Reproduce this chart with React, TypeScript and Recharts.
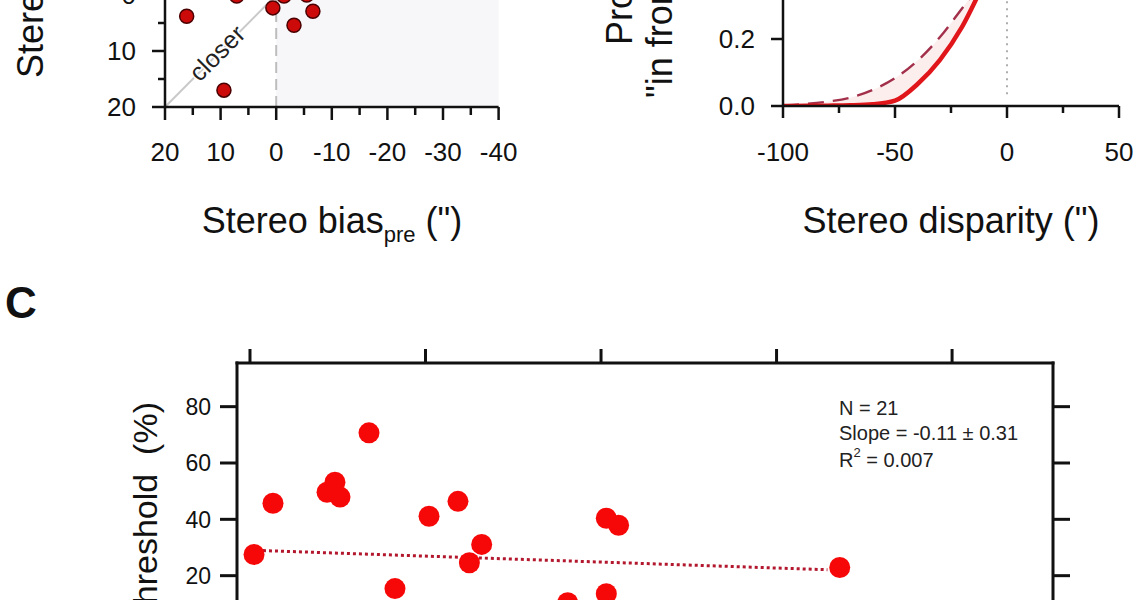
import React from 'react'
import {
  ScatterChart,
  Scatter,
  ComposedChart,
  Line,
  Area,
  XAxis,
  YAxis,
  ReferenceLine,
  ReferenceArea,
} from 'recharts'

const FONT = '"Liberation Sans", Arial, Helvetica, sans-serif'
const INK = '#111'

// Panel A: stereo bias pre vs post (only the lower part is visible)
const biasPre = [16.1, 0.6, -3.2, -6.6, 9.4, 7.1, -1.4, -5.5]
const biasPost = [3.8, 2.3, 5.4, 2.9, 17.0, 0.2, 0.2, 0.0]
const aTicks = [-40, -35, -30, -25, -20, -15, -10, -5, 0, 5, 10, 15, 20]

// Panel B: psychometric curves
const disparity = [-100, -90, -80, -70, -60, -50, -40, -30, -20, -10, 0, 10, 20, 30, 40, 50]
const pSolid = [0.0, 0.0005, 0.001, 0.002, 0.005, 0.016, 0.065, 0.137, 0.237, 0.37, 0.5, 0.63, 0.75, 0.85, 0.92, 0.96]
const pDashed = [0.002, 0.006, 0.013, 0.025, 0.048, 0.083, 0.135, 0.205, 0.292, 0.38, 0.47, 0.56, 0.66, 0.75, 0.83, 0.89]
const bXTicks = [-100, -75, -50, -25, 0, 25, 50]
const bYTicks = [0, 0.2, 0.4, 0.6, 0.8, 1.0]

// Panel C: threshold scatter with fit
const cX = [0.23, 1.31, 4.39, 4.84, 5.13, 6.78, 8.26, 10.2, 11.85, 12.5, 13.2, 18.1, 20.3, 21.0, 20.3, 33.6]
const cY = [27.5, 45.7, 49.6, 53.2, 47.9, 70.7, 15.4, 41.1, 46.4, 24.6, 31.1, 10.4, 40.4, 37.9, 13.6, 22.9]
const fitX = [0.74, 32.9]
const fitY = [28.9, 22.1]
const cXTicks = [0, 10, 20, 30, 40]
const cYTicks = [0, 20, 40, 60, 80]

const aData = biasPre.map((x, i) => ({ x, y: biasPost[i] }))
const bData = disparity.map((x, i) => ({
  x,
  solid: pSolid[i],
  dashed: pDashed[i],
  band: [pSolid[i], pDashed[i]],
}))
const cData = cX.map((x, i) => ({ x, y: cY[i] }))

const AXIS_A = { stroke: INK, strokeWidth: 2.5 }
const AXIS_C = { stroke: INK, strokeWidth: 3, strokeLinecap: 'square' as const }

function aXTick(p: any) {
  const v = p.payload.value
  const major = v % 10 === 0
  return (
    <g>
      <line x1={p.x} x2={p.x} y1={p.y} y2={p.y + (major ? 13 : 8)} stroke={INK} strokeWidth={2.5} />
      {major && (
        <text x={p.x} y={p.y + 54} textAnchor="middle" fontSize={26} fontFamily={FONT} fill={INK}>
          {v}
        </text>
      )}
    </g>
  )
}

// labels above the crop are left out, the tick marks stay
function aYTick(p: any) {
  const v = p.payload.value
  const major = v % 10 === 0
  return (
    <g>
      <line x1={p.x - (major ? 13 : 7)} x2={p.x} y1={p.y} y2={p.y} stroke={INK} strokeWidth={2.5} />
      {major && v >= 0 && (
        <text x={p.x - 29} y={p.y} dy="0.36em" textAnchor="end" fontSize={26} fontFamily={FONT} fill={INK}>
          {v}
        </text>
      )}
    </g>
  )
}

function bXTick(p: any) {
  const v = p.payload.value
  const major = v % 50 === 0
  return (
    <g>
      <line x1={p.x} x2={p.x} y1={p.y} y2={p.y + (major ? 12 : 7)} stroke={INK} strokeWidth={2.5} />
      {major && (
        <text x={p.x} y={p.y + 55} textAnchor="middle" fontSize={26} fontFamily={FONT} fill={INK}>
          {v}
        </text>
      )}
    </g>
  )
}

function bYTick(p: any) {
  const v = p.payload.value
  return (
    <g>
      <line x1={p.x - 12} x2={p.x} y1={p.y} y2={p.y} stroke={INK} strokeWidth={2.5} />
      {v <= 0.2 && (
        <text x={p.x - 28} y={p.y} dy="0.36em" textAnchor="end" fontSize={26} fontFamily={FONT} fill={INK}>
          {v.toFixed(1)}
        </text>
      )}
    </g>
  )
}

function cLeftTick(p: any) {
  const v = p.payload.value
  return (
    <g>
      <line x1={p.x - 17} x2={p.x} y1={p.y} y2={p.y} stroke={INK} strokeWidth={3} />
      {v > 0 && (
        <text x={p.x - 26} y={p.y} dy="0.36em" textAnchor="end" fontSize={23} fontFamily={FONT} fill={INK}>
          {v}
        </text>
      )}
    </g>
  )
}

function cRightTick(p: any) {
  return <line x1={p.x} x2={p.x + 17} y1={p.y} y2={p.y} stroke={INK} strokeWidth={3} />
}

function cTopTick(p: any) {
  return <line x1={p.x} x2={p.x} y1={p.y - 14} y2={p.y} stroke={INK} strokeWidth={3} />
}

const dotA = (p: any) => <circle cx={p.cx} cy={p.cy} r={7} fill="#cc0a0a" stroke="#4a0000" strokeWidth={1.5} />
const dotC = (p: any) => <circle cx={p.cx} cy={p.cy} r={10.5} fill="#f70808" />

function PanelA() {
  return (
    <div style={{ position: 'absolute', left: 0, top: -260 }}>
      <ScatterChart width={560} height={460} margin={{ top: 31, right: 61.4, bottom: 33, left: 105 }}>
        <XAxis
          type="number"
          dataKey="x"
          domain={[-40, 20]}
          reversed
          allowDataOverflow
          ticks={aTicks}
          interval={0}
          height={60}
          tickSize={0}
          tickMargin={0}
          tickLine={false}
          axisLine={AXIS_A}
          tick={aXTick}
        />
        <YAxis
          type="number"
          dataKey="y"
          domain={[-40, 20]}
          reversed
          allowDataOverflow
          ticks={aTicks}
          interval={0}
          width={60}
          tickSize={0}
          tickMargin={0}
          tickLine={false}
          axisLine={AXIS_A}
          tick={aYTick}
        />
        <ReferenceArea x1={0} x2={-40} fill="#f7f6f8" fillOpacity={1} stroke="none" />
        <ReferenceLine
          segment={[{ x: 20, y: 20 }, { x: -40, y: -40 }]}
          stroke="#c9c9c9"
          strokeWidth={2}
        />
        <ReferenceLine x={0} stroke="#bdbdbd" strokeWidth={2} strokeDasharray="11 6" />
        <Scatter data={aData} shape={dotA} isAnimationActive={false} />
      </ScatterChart>
    </div>
  )
}

function PanelB() {
  return (
    <div style={{ position: 'absolute', left: 600, top: -260 }}>
      <ComposedChart width={543} height={460} data={bData} margin={{ top: 31, right: 24, bottom: 34, left: 123 }}>
        <XAxis
          type="number"
          dataKey="x"
          domain={[-100, 50]}
          allowDataOverflow
          ticks={bXTicks}
          interval={0}
          height={60}
          tickSize={0}
          tickMargin={0}
          tickLine={false}
          axisLine={AXIS_A}
          tick={bXTick}
        />
        <YAxis
          type="number"
          domain={[0, 1]}
          allowDataOverflow
          ticks={bYTicks}
          interval={0}
          width={60}
          tickSize={0}
          tickMargin={0}
          tickLine={false}
          axisLine={AXIS_A}
          tick={bYTick}
        />
        <Area type="monotone" dataKey="band" fill="#fdeeee" fillOpacity={1} stroke="none" isAnimationActive={false} />
        <ReferenceLine
          segment={[{ x: 0, y: 0.035 }, { x: 0, y: 1 }]}
          stroke="#999"
          strokeWidth={1.6}
          strokeDasharray="2 5"
        />
        <Line
          type="monotone"
          dataKey="dashed"
          stroke="#a3304a"
          strokeWidth={2.4}
          strokeDasharray="16 9"
          dot={false}
          isAnimationActive={false}
        />
        <Line type="monotone" dataKey="solid" stroke="#e0161b" strokeWidth={4.5} dot={false} isAnimationActive={false} />
      </ComposedChart>
    </div>
  )
}

function PanelC() {
  return (
    <div style={{ position: 'absolute', left: 0, top: 300 }}>
      <ScatterChart width={1143} height={360} margin={{ top: 43, right: 60, bottom: 28, left: 177 }}>
        <XAxis
          xAxisId="top"
          orientation="top"
          type="number"
          dataKey="x"
          domain={[-0.74, 45.75]}
          allowDataOverflow
          ticks={cXTicks}
          interval={0}
          height={20}
          tickSize={0}
          tickMargin={0}
          tickLine={false}
          axisLine={AXIS_C}
          tick={cTopTick}
        />
        <YAxis
          yAxisId="left"
          type="number"
          dataKey="y"
          domain={[0, 95.5]}
          allowDataOverflow
          ticks={cYTicks}
          interval={0}
          width={60}
          tickSize={0}
          tickMargin={0}
          tickLine={false}
          axisLine={AXIS_C}
          tick={cLeftTick}
        />
        <YAxis
          yAxisId="right"
          orientation="right"
          type="number"
          domain={[0, 95.5]}
          allowDataOverflow
          ticks={cYTicks}
          interval={0}
          width={30}
          tickSize={0}
          tickMargin={0}
          tickLine={false}
          axisLine={AXIS_C}
          tick={cRightTick}
        />
        <ReferenceLine
          xAxisId="top"
          yAxisId="left"
          segment={[{ x: fitX[0], y: fitY[0] }, { x: fitX[1], y: fitY[1] }]}
          stroke="#b3172d"
          strokeWidth={3}
          strokeDasharray="3 3"
        />
        <Scatter xAxisId="top" yAxisId="left" data={cData} shape={dotC} isAnimationActive={false} />
      </ScatterChart>
    </div>
  )
}

function Labels() {
  const t = { fontFamily: FONT, fill: INK }
  return (
    <svg width={1143} height={600} style={{ position: 'absolute', left: 0, top: 0, pointerEvents: 'none' }}>
      <text transform="translate(43,78) rotate(-90)" fontSize={36} {...t}>
        Stereo bias<tspan fontSize={22} dy={9}>post</tspan>
        <tspan dy={-9}> (")</tspan>
      </text>
      <text x={332} y={233} textAnchor="middle" fontSize={36} {...t}>
        Stereo bias<tspan fontSize={22} dy={9}>pre</tspan>
        <tspan dy={-9}> (")</tspan>
      </text>
      <text
        transform="translate(217,53) rotate(-45)"
        textAnchor="middle"
        dy="0.35em"
        fontSize={25}
        fontFamily={FONT}
        fill="#222"
        stroke="#fff"
        strokeWidth={3}
        paintOrder="stroke"
      >
        closer
      </text>
      <text transform="translate(632,45) rotate(-90)" fontSize={36} {...t}>
        Proportion
      </text>
      <text transform="translate(672,98) rotate(-90)" fontSize={36} {...t}>
        "in front" responses
      </text>
      <text x={951} y={233} textAnchor="middle" fontSize={36} {...t}>
        Stereo disparity (")
      </text>
      <text x={5} y={318} fontSize={44} fontWeight="bold" {...t}>
        C
      </text>
      <text transform="translate(157,402) rotate(-90)" textAnchor="end" fontSize={34} {...t}>
        {'Stereo threshold\u00a0\u00a0(%)'}
      </text>
      <g fontSize={20} fontFamily={FONT} fill="#222">
        <text x={839} y={415}>N = 21</text>
        <text x={839} y={440}>Slope = -0.11 ± 0.31</text>
        <text x={839} y={467}>
          R<tspan fontSize={13} dy={-10}>2</tspan>
          <tspan dy={10}> = 0.007</tspan>
        </text>
      </g>
    </svg>
  )
}

export default function App() {
  return (
    <div
      style={{
        position: 'fixed',
        left: 0,
        top: 0,
        width: 1143,
        height: 600,
        overflow: 'hidden',
        background: '#fff',
      }}
    >
      <PanelA />
      <PanelB />
      <PanelC />
      <Labels />
    </div>
  )
}
